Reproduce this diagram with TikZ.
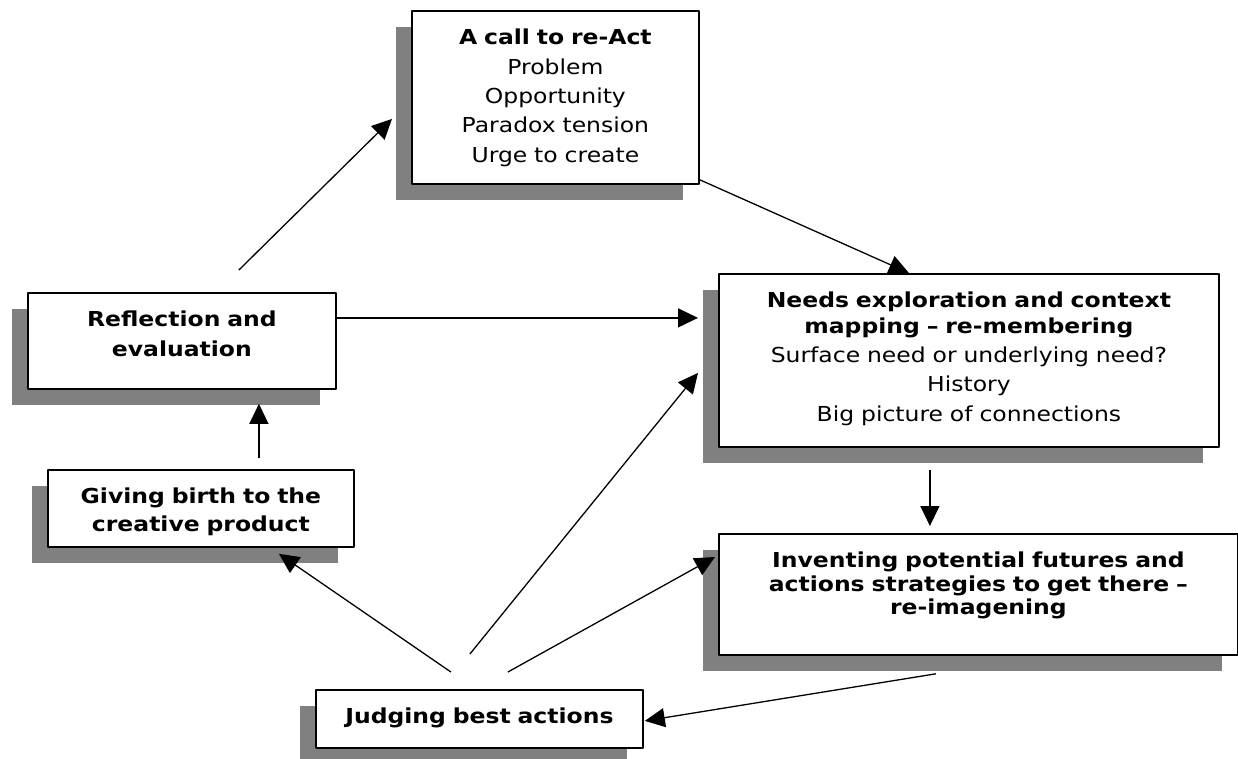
\documentclass[tikz,border=0pt]{standalone}
\usepackage{fontspec}
\setmainfont{DejaVu Sans}[FakeStretch=1.14]
\usetikzlibrary{arrows.meta,shadows}

\begin{document}
\begin{tikzpicture}[x=1pt, y=-1pt, line join=round, >={Triangle[length=20pt,width=19pt]},
 font=\fontsize{20.6}{29.3}\selectfont,
 box/.style={draw, line width=1.8pt, fill=white, anchor=north west, align=center, inner sep=0pt,
  text height=34pt, drop shadow={shadow xshift=-16pt, shadow yshift=-16pt, fill=black!50, opacity=1}},
 link/.style={->, line width=1.3pt}]
 \useasboundingbox (0,0) rectangle (1238,759);
 % the six stages
 \node[box, text width=287pt, text depth=139pt] (call) at (411,10)
  {\textbf{A call to re-Act}\\Problem\\Opportunity\\Paradox tension\\Urge to create};
 \node[box, text width=308pt, text depth=62pt] (refl) at (27,292)
  {\textbf{Reflection and}\\\textbf{evaluation}};
 \node[box, text width=500pt, text depth=139pt] (needs) at (718,273)
  {\textbf{Needs exploration and context}\\[-4pt]\textbf{mapping – re-membering}\\Surface need or underlying need?\\History\\Big picture of connections};
 \node[box, text width=519pt, text depth=87pt] (invent) at (718,533)
  {\textbf{Inventing potential futures and}\\[-6pt]\textbf{actions strategies to get there –}\\[-6pt]\textbf{re-imagening}};
 \node[box, text width=306pt, text depth=43pt] (birth) at (47,469)
  {\textbf{Giving birth to the}\\[-2pt]\textbf{creative product}};
 \node[box, text width=327pt, text depth=24pt] (judge) at (315,689)
  {\textbf{Judging best actions}};
 % arrows between stages
 \draw[link] ([xshift=57pt,yshift=22pt]refl.north) -- ([xshift=-19pt,yshift=-21.5pt]call.west);
 \draw[link] ([yshift=5pt]call.south east) -- ([xshift=-60pt]needs.north);
 \draw[link] ([yshift=23pt]refl.east) -- ([xshift=-20pt,yshift=42.5pt]needs.west);
 \draw[link] ([xshift=58pt,yshift=11pt]birth.north) -- ([xshift=77pt,yshift=-14pt]refl.south);
 \draw[link] ([xshift=-39pt,yshift=-22pt]needs.south) -- ([xshift=-48.5pt,yshift=7pt]invent.north);
 \draw[link] ([xshift=-42.5pt,yshift=-18pt]invent.south) -- ([xshift=1pt,yshift=-2pt]judge.east);
 \draw[link] ([xshift=-28.5pt,yshift=17pt]judge.north) -- ([xshift=78pt,yshift=-6pt]birth.south);
 \draw[link] ([xshift=-9.5pt,yshift=35pt]judge.north) -- ([xshift=-20pt,yshift=-12.5pt]needs.west);
 \draw[link] ([xshift=28.5pt,yshift=17pt]judge.north) -- ([xshift=-3pt,yshift=-24pt]invent.north west);
\end{tikzpicture}
\end{document}
